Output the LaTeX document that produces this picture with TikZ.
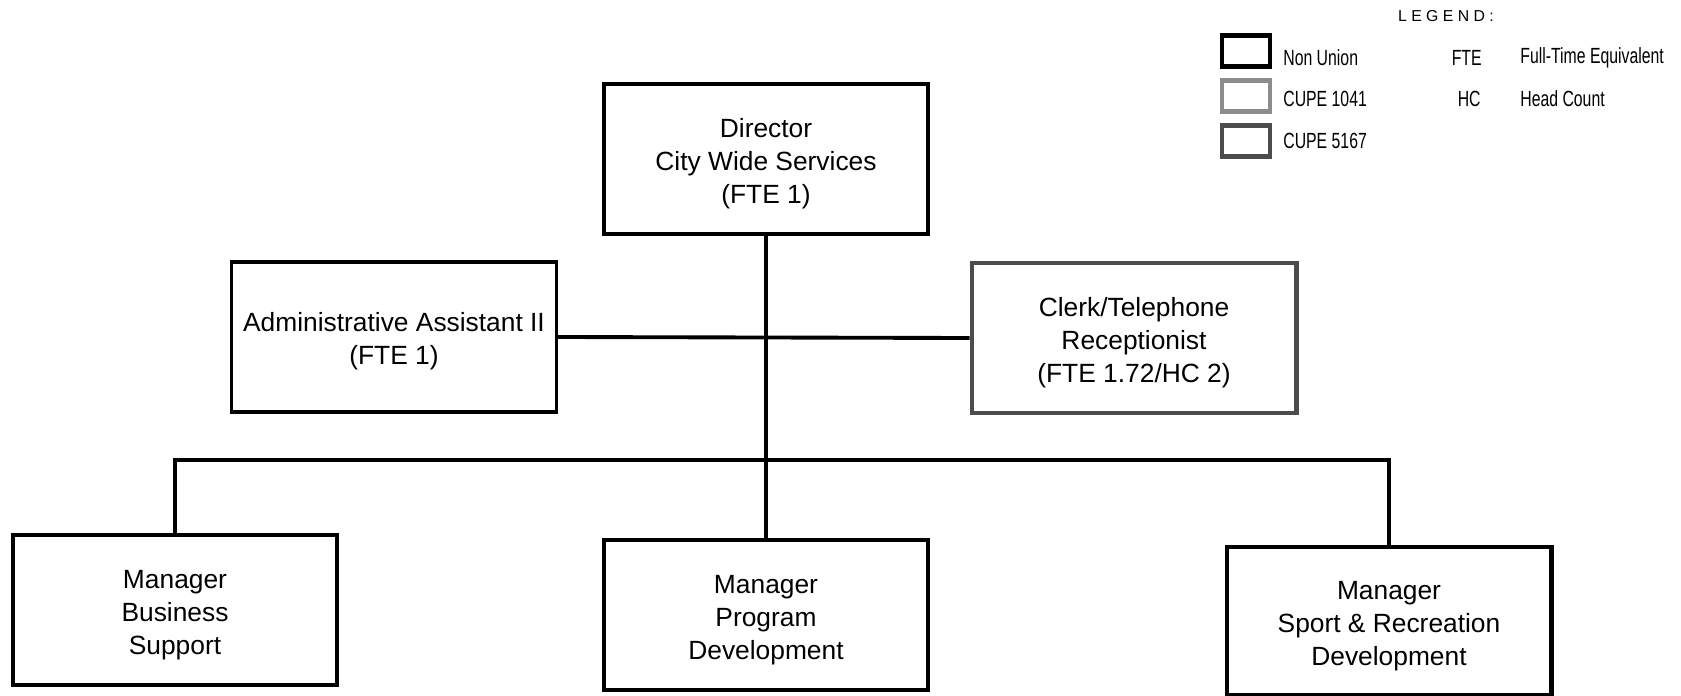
\documentclass[tikz,border=0pt]{standalone}
\usepackage{fontspec}
\setmainfont{Liberation Sans}
\newfontfamily\narrowfont[FakeStretch=0.72]{Liberation Sans}
\newcommand\toppad{\rule{0pt}{16pt}}
\begin{document}
\begin{tikzpicture}[x=0.02cm, y=-0.02cm,
        post/.style={draw, line width=2.3pt, fill=white, align=center,
            minimum width=6.5cm, minimum height=3cm, inner sep=0pt,
            font=\fontsize{15}{18.8}\selectfont},
        link/.style={line width=2.2pt},
        keybox/.style={minimum width=0.95cm, minimum height=0.62cm, inner sep=0pt},
        keytext/.style={font=\narrowfont\fontsize{12.5}{14}\selectfont, inner sep=0pt}]
        % --- Khung trang ---
        \useasboundingbox (0,0) rectangle (1681,696);

        % --- Chú thích ---
        \node[font=\fontsize{9}{11}\selectfont, inner sep=0pt] (legtitle) at (1446,16) {L E G E N D :};
        \node[keybox, draw, line width=2.3pt] (keynon) at (1246,51) {};
        \node[keybox, draw=black!45, line width=2.3pt] (keycupeA) at (1246,96) {};
        \node[keybox, draw=black!70, line width=2.3pt] (keycupeB) at (1246,141) {};
        \node[keytext, anchor=west] (txtnon) at (1283,58) {Non Union};
        \node[keytext, anchor=west] (txtcupeA) at (1283,99) {CUPE 1041};
        \node[keytext, anchor=west] (txtcupeB) at (1283,141) {CUPE 5167};
        \node[keytext, anchor=east] (abbfte) at (1482,58) {FTE};
        \node[keytext, anchor=east] (abbhc) at (1481,99) {HC};
        \node[keytext, anchor=west] (deffte) at (1520,58) {Full-Time Equivalent};
        \node[keytext, anchor=west] (defhc) at (1520,99) {Head Count};

        % --- Các vị trí ---
        \node[post] (director) at (766,159) {\toppad Director\\City Wide Services\\(FTE 1)};
        \node[post, line width=1.8pt] (admin) at (394,337) {\toppad Administrative Assistant II\\(FTE 1)};
        \node[post, draw=black!70] (clerk) at (1134,338) {\toppad Clerk/Telephone\\Receptionist\\(FTE 1.72/HC 2)};
        \node[post] (business) at (175,610) {\toppad Manager\\Business\\Support};
        \node[post] (program) at (766,615) {\toppad Manager\\Program\\Development};
        \node[post, minimum height=2.96cm] (sport) at (1389,621) {\toppad Manager\\Sport \& Recreation\\Development};

        % --- Đường nối ---
        \coordinate (bus) at (766,460);
        \draw[link] (director.south) -- (program.north);
        \draw[link] (admin.east) -- (clerk.west);
        \draw[link] (business.north) -- (business.north |- bus) -- (sport.north |- bus) -- (sport.north);
\end{tikzpicture}
\end{document}
